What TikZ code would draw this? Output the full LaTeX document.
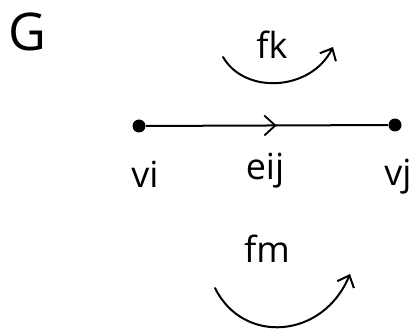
\documentclass[tikz,border=0pt]{standalone}
\usepackage{fontspec}
\setmainfont{Open Sans}
\usetikzlibrary{arrows.meta,decorations.markings}

\begin{document}
\begin{tikzpicture}[
  x=1pt, y=1pt,
  line width=2pt, line cap=round,
  lbl/.style={inner sep=0pt, font=\fontsize{36}{38}\selectfont},
  dot/.style={circle, fill=black, inner sep=0pt, minimum size=13pt},
  edge/.style={postaction={decorate}, decoration={markings,
    mark=at position 0.54 with {\arrow{Straight Barb[length=11pt,width=20pt,line width=1.8pt]}}}},
  turn/.style={-{Straight Barb[length=10pt,width=18pt,line width=2pt]}}
]
\useasboundingbox (0,0) rectangle (420,335);

% ---- graph ----
\node[lbl, font=\fontsize{52}{54}\selectfont] (graph) at (27,303) {G};
\node[dot] (vi) at (139,209) {};
\node[dot] (vj) at (395,210) {};
\draw[edge] (vi) -- (vj);

% ---- labels ----
\node[lbl] (vilbl)  at (145,161) {vi};
\node[lbl] (eijlbl) at (265,164) {eij};
\node[lbl] (vjlbl)  at (398,158) {vj};
\node[lbl] (fklbl)  at (272,290) {fk};
\node[lbl] (fmlbl)  at (267,86) {fm};

% ---- rotations ----
\coordinate (fka) at (223,278);
\coordinate (fkb) at (333,288);
\coordinate (fma) at (215,47);
\coordinate (fmb) at (350,61);
\draw[turn] (fka) .. controls (245,240) and (311,244) .. (fkb);
\draw[turn] (fma) .. controls (243,-10) and (323,-4) .. (fmb);
\end{tikzpicture}
\end{document}
